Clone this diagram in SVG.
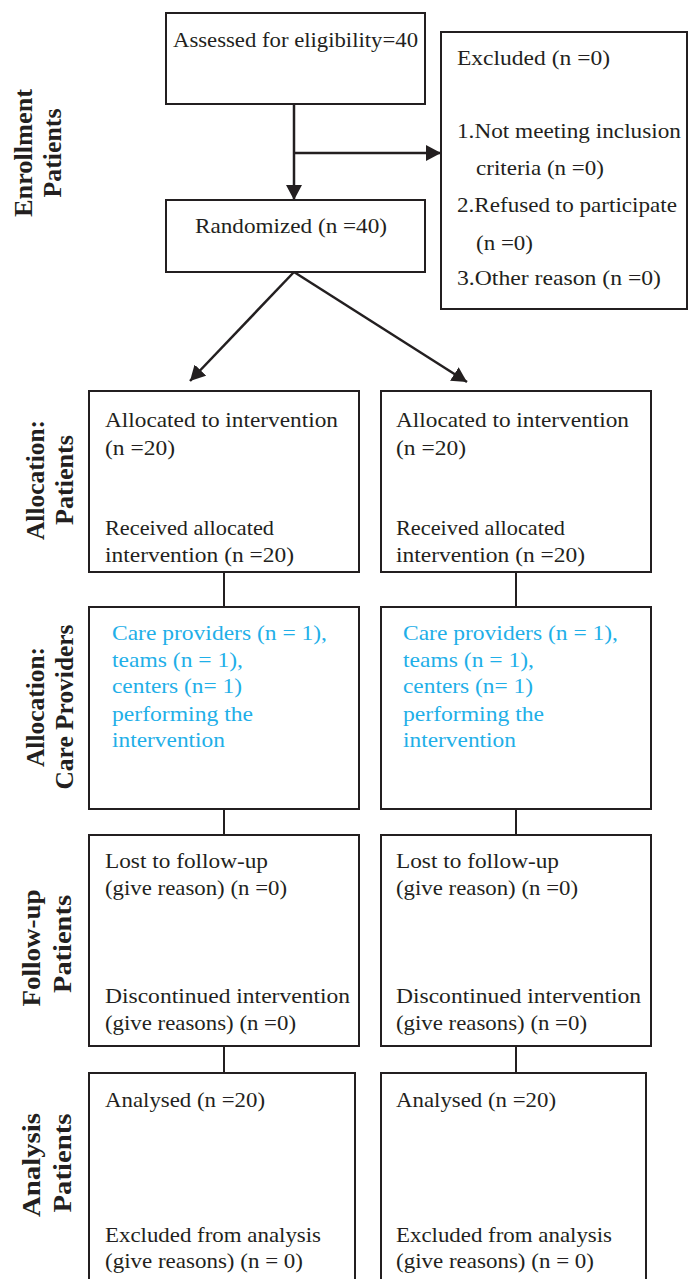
<svg xmlns="http://www.w3.org/2000/svg" width="690" height="1279" viewBox="0 0 690 1279">
<style>
.box{fill:#fff;stroke:#231f20;stroke-width:2}
.t{font-family:"Liberation Serif","Times New Roman",serif;font-size:21px;fill:#231f20}
.b{font-family:"Liberation Serif","Times New Roman",serif;font-size:21px;fill:#1fafe8}
.lab{font-family:"Liberation Serif","Times New Roman",serif;font-size:26px;font-weight:bold;fill:#231f20;text-anchor:middle}
.ln{fill:none;stroke:#231f20;stroke-width:2.5}
.cn{fill:none;stroke:#231f20;stroke-width:2}
</style>
<defs>
<marker id="ah" markerUnits="userSpaceOnUse" markerWidth="17" markerHeight="17" refX="15" refY="8" orient="auto">
<path d="M0,0 L15,8 L0,16 z" fill="#231f20"/>
</marker>
</defs>
<rect width="690" height="1279" fill="#fff"/>

<g id="labels">
<text class="lab" transform="translate(32,153) rotate(-90)" textLength="128" lengthAdjust="spacingAndGlyphs">Enrollment</text>
<text class="lab" transform="translate(61,153) rotate(-90)" textLength="89" lengthAdjust="spacingAndGlyphs">Patients</text>
<text class="lab" transform="translate(44,480) rotate(-90)" textLength="120" lengthAdjust="spacingAndGlyphs">Allocation:</text>
<text class="lab" transform="translate(73,480) rotate(-90)" textLength="90" lengthAdjust="spacingAndGlyphs">Patients</text>
<text class="lab" transform="translate(44,707) rotate(-90)" textLength="120" lengthAdjust="spacingAndGlyphs">Allocation:</text>
<text class="lab" transform="translate(73,707) rotate(-90)" textLength="165" lengthAdjust="spacingAndGlyphs">Care Providers</text>
<text class="lab" transform="translate(40,948) rotate(-90)" textLength="117" lengthAdjust="spacingAndGlyphs">Follow-up</text>
<text class="lab" transform="translate(71,944) rotate(-90)" textLength="98" lengthAdjust="spacingAndGlyphs">Patients</text>
<text class="lab" transform="translate(40,1165) rotate(-90)" textLength="104" lengthAdjust="spacingAndGlyphs">Analysis</text>
<text class="lab" transform="translate(71,1163) rotate(-90)" textLength="99" lengthAdjust="spacingAndGlyphs">Patients</text>
</g>

<g id="connectors">
<line class="ln" x1="294" y1="104" x2="294" y2="200" marker-end="url(#ah)"/>
<line class="ln" x1="294" y1="153" x2="441" y2="153" marker-end="url(#ah)"/>
<line class="ln" x1="294" y1="272" x2="190" y2="381" marker-end="url(#ah)"/>
<line class="ln" x1="294" y1="272" x2="467" y2="382" marker-end="url(#ah)"/>
<line class="cn" x1="224" y1="572" x2="224" y2="607"/>
<line class="cn" x1="516" y1="572" x2="516" y2="607"/>
<line class="cn" x1="224" y1="809" x2="224" y2="835"/>
<line class="cn" x1="516" y1="809" x2="516" y2="835"/>
<line class="cn" x1="224" y1="1046" x2="224" y2="1073"/>
<line class="cn" x1="516" y1="1046" x2="516" y2="1073"/>
</g>

<g id="assessed">
<rect class="box" x="166" y="13" width="259" height="91"/>
<text class="t" x="173" y="47" textLength="245" lengthAdjust="spacingAndGlyphs">Assessed for eligibility=40</text>
</g>

<g id="excluded">
<rect class="box" x="441" y="32" width="246" height="277"/>
<text class="t" x="457" y="65" textLength="153" lengthAdjust="spacingAndGlyphs">Excluded (n =0)</text>
<text class="t" x="457" y="138" textLength="224" lengthAdjust="spacingAndGlyphs">1.Not meeting inclusion</text>
<text class="t" x="476" y="175" textLength="128" lengthAdjust="spacingAndGlyphs">criteria (n =0)</text>
<text class="t" x="457" y="212" textLength="220" lengthAdjust="spacingAndGlyphs">2.Refused to participate</text>
<text class="t" x="476" y="250" textLength="57" lengthAdjust="spacingAndGlyphs">(n =0)</text>
<text class="t" x="457" y="285" textLength="204" lengthAdjust="spacingAndGlyphs">3.Other reason (n =0)</text>
</g>

<g id="randomized">
<rect class="box" x="166" y="200" width="259" height="72"/>
<text class="t" x="195" y="233" textLength="192" lengthAdjust="spacingAndGlyphs">Randomized (n =40)</text>
</g>

<g id="alloc-left">
<rect class="box" x="89" y="391" width="270" height="181"/>
<text class="t" x="105" y="427" textLength="233" lengthAdjust="spacingAndGlyphs">Allocated to intervention</text>
<text class="t" x="105" y="455" textLength="70" lengthAdjust="spacingAndGlyphs">(n =20)</text>
<text class="t" x="105" y="535" textLength="169" lengthAdjust="spacingAndGlyphs">Received allocated</text>
<text class="t" x="105" y="562" textLength="189" lengthAdjust="spacingAndGlyphs">intervention (n =20)</text>
</g>
<g id="alloc-right">
<rect class="box" x="381" y="391" width="270" height="181"/>
<text class="t" x="396" y="427" textLength="233" lengthAdjust="spacingAndGlyphs">Allocated to intervention</text>
<text class="t" x="396" y="455" textLength="70" lengthAdjust="spacingAndGlyphs">(n =20)</text>
<text class="t" x="396" y="535" textLength="169" lengthAdjust="spacingAndGlyphs">Received allocated</text>
<text class="t" x="396" y="562" textLength="189" lengthAdjust="spacingAndGlyphs">intervention (n =20)</text>
</g>

<g id="care-left">
<rect class="box" x="89" y="607" width="270" height="202"/>
<text class="b" x="112" y="640" textLength="215" lengthAdjust="spacingAndGlyphs">Care providers (n = 1),</text>
<text class="b" x="112" y="667" textLength="131" lengthAdjust="spacingAndGlyphs">teams (n = 1),</text>
<text class="b" x="112" y="693" textLength="130" lengthAdjust="spacingAndGlyphs">centers (n= 1)</text>
<text class="b" x="112" y="721" textLength="141" lengthAdjust="spacingAndGlyphs">performing the</text>
<text class="b" x="112" y="747" textLength="113" lengthAdjust="spacingAndGlyphs">intervention</text>
</g>
<g id="care-right">
<rect class="box" x="381" y="607" width="270" height="202"/>
<text class="b" x="403" y="640" textLength="215" lengthAdjust="spacingAndGlyphs">Care providers (n = 1),</text>
<text class="b" x="403" y="667" textLength="131" lengthAdjust="spacingAndGlyphs">teams (n = 1),</text>
<text class="b" x="403" y="693" textLength="130" lengthAdjust="spacingAndGlyphs">centers (n= 1)</text>
<text class="b" x="403" y="721" textLength="141" lengthAdjust="spacingAndGlyphs">performing the</text>
<text class="b" x="403" y="747" textLength="113" lengthAdjust="spacingAndGlyphs">intervention</text>
</g>

<g id="follow-left">
<rect class="box" x="89" y="835" width="270" height="211"/>
<text class="t" x="105" y="868" textLength="163" lengthAdjust="spacingAndGlyphs">Lost to follow-up</text>
<text class="t" x="105" y="895" textLength="182" lengthAdjust="spacingAndGlyphs">(give reason) (n =0)</text>
<text class="t" x="105" y="1003" textLength="245" lengthAdjust="spacingAndGlyphs">Discontinued intervention</text>
<text class="t" x="105" y="1030" textLength="191" lengthAdjust="spacingAndGlyphs">(give reasons) (n =0)</text>
</g>
<g id="follow-right">
<rect class="box" x="381" y="835" width="270" height="211"/>
<text class="t" x="396" y="868" textLength="163" lengthAdjust="spacingAndGlyphs">Lost to follow-up</text>
<text class="t" x="396" y="895" textLength="182" lengthAdjust="spacingAndGlyphs">(give reason) (n =0)</text>
<text class="t" x="396" y="1003" textLength="245" lengthAdjust="spacingAndGlyphs">Discontinued intervention</text>
<text class="t" x="396" y="1030" textLength="191" lengthAdjust="spacingAndGlyphs">(give reasons) (n =0)</text>
</g>

<g id="analysis-left">
<rect class="box" x="89" y="1073" width="266" height="220"/>
<text class="t" x="105" y="1107" textLength="160" lengthAdjust="spacingAndGlyphs">Analysed (n =20)</text>
<text class="t" x="105" y="1242" textLength="216" lengthAdjust="spacingAndGlyphs">Excluded from analysis</text>
<text class="t" x="105" y="1268" textLength="198" lengthAdjust="spacingAndGlyphs">(give reasons) (n = 0)</text>
</g>
<g id="analysis-right">
<rect class="box" x="381" y="1073" width="265" height="220"/>
<text class="t" x="396" y="1107" textLength="160" lengthAdjust="spacingAndGlyphs">Analysed (n =20)</text>
<text class="t" x="396" y="1242" textLength="216" lengthAdjust="spacingAndGlyphs">Excluded from analysis</text>
<text class="t" x="396" y="1268" textLength="198" lengthAdjust="spacingAndGlyphs">(give reasons) (n = 0)</text>
</g>
</svg>
